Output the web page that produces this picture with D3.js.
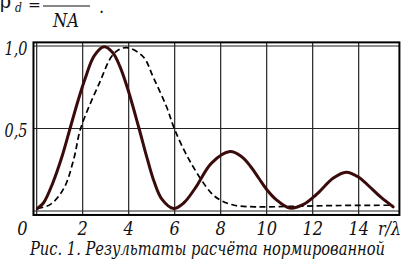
<!DOCTYPE html>
<html><head><meta charset="utf-8">
<script src="https://cdn.jsdelivr.net/npm/d3@7"></script>
<style>
html,body{margin:0;padding:0;background:#fff;}
svg{display:block;}
</style></head>
<body>
<svg id="c" width="402" height="260"></svg>
<script>
// data
const xTicks = [0, 2, 4, 6, 8, 10, 12, 14];
const xTickLabels = ["0", "2", "4", "6", "8", "10", "12", "14"];
const yTicks = [0.5, 1.0];
const yTickLabels = ["0,5", "1,0"];
const xAxisTitle = "r/λ";
const caption = "Рис. 1. Результаты расчёта нормированной";

const solidX = [0.03,0.3,0.7,1.1,1.45,1.8,2.1,2.5,2.93,3.3,3.62,3.98,4.45,4.8,5.1,5.45,5.95,6.4,6.9,7.6,8.4,8.9,9.3,9.65,10.0,10.4,11.0,11.6,12.16,12.9,13.45,14.0,14.45,14.95,15.5];
const solidY = [0.015,0.05,0.17,0.33,0.5,0.67,0.8,0.94,0.995,0.96,0.875,0.73,0.5,0.32,0.18,0.07,0.015,0.05,0.14,0.29,0.36,0.33,0.27,0.2,0.13,0.07,0.018,0.04,0.1,0.2,0.235,0.205,0.15,0.085,0.025];

const dashX = [0.03,0.6,1.19,1.62,1.91,2.71,3.36,3.9,4.63,5.07,5.65,6.01,6.67,7.58,8.0,8.58,9.5,11.0,13.0,15.5];
const dashY = [0.015,0.04,0.14,0.32,0.5,0.77,0.955,0.99,0.935,0.81,0.63,0.49,0.3,0.11,0.065,0.035,0.025,0.028,0.033,0.035];

const FONT = "'DejaVu Serif Condensed', 'DejaVu Serif', serif";

const svg = d3.select("#c");
const x = d3.scaleLinear().domain([0, 14]).range([36.7, 358.7]);
const y = d3.scaleLinear().domain([0, 1]).range([211, 46]);

const x0 = x(-0.14), x1 = x(15.77), yT = y(1.022), yB = y(-0.024);

// grid
const g = svg.append("g");
g.selectAll("line.v").data(xTicks).join("line")
  .attr("x1", d => x(d)).attr("x2", d => x(d)).attr("y1", yT).attr("y2", yB)
  .attr("stroke", "#111").attr("stroke-width", 1.1);
g.selectAll("line.h").data([0].concat(yTicks)).join("line")
  .attr("x1", x0).attr("x2", x1).attr("y1", d => y(d)).attr("y2", d => y(d))
  .attr("stroke", "#222").attr("stroke-width", 1.1);
svg.append("rect").attr("x", x0).attr("y", yT).attr("width", x1 - x0).attr("height", yB - yT)
  .attr("fill", "none").attr("stroke", "#000").attr("stroke-width", 2);

// curves
const line = d3.line().x(d => x(d[0])).y(d => y(d[1])).curve(d3.curveCatmullRom.alpha(0.5));
svg.append("path").datum(dashX.map((v, i) => [v, dashY[i]]))
  .attr("d", line).attr("fill", "none").attr("stroke", "#000")
  .attr("stroke-width", 1.7).attr("stroke-dasharray", "6,3.5");
svg.append("path").datum(solidX.map((v, i) => [v, solidY[i]]))
  .attr("d", line).attr("fill", "none").attr("stroke", "#3a0b0b")
  .attr("stroke-width", 3).attr("stroke-linejoin", "round").attr("stroke-linecap", "round");

function t(sel) { return sel.attr("font-family", FONT).attr("fill", "#111"); }

// tick labels
t(svg.selectAll("text.xt").data(xTicks).join("text"))
  .attr("x", (d, i) => i === 0 ? 22.5 : x(d)).attr("y", 235)
  .attr("text-anchor", "middle").attr("font-style", "italic").attr("font-size", 18)
  .text((d, i) => xTickLabels[i]);
t(svg.append("text")).attr("x", 378).attr("y", 235).attr("font-style", "italic").attr("font-size", 18)
  .attr("textLength", 23).attr("lengthAdjust", "spacingAndGlyphs").text(xAxisTitle);
t(svg.selectAll("text.yt").data(yTicks).join("text"))
  .attr("x", 27.5).attr("y", d => y(d) + 8.5)
  .attr("text-anchor", "end").attr("font-style", "italic").attr("font-size", 18)
  .attr("textLength", 23).attr("lengthAdjust", "spacingAndGlyphs")
  .text((d, i) => yTickLabels[i]);

// caption
t(svg.append("text")).attr("x", 30).attr("y", 254.5).attr("font-style", "italic").attr("font-size", 18)
  .attr("textLength", 355).attr("lengthAdjust", "spacingAndGlyphs").text(caption);

// formula fragment at top (cut off at the top edge, as in the reference)
t(svg.append("text")).attr("x", 0).attr("y", 8).attr("font-size", 21).text("ρ");
t(svg.append("text")).attr("x", 15).attr("y", 12).attr("font-size", 12).attr("font-style", "italic").text("d");
t(svg.append("text")).attr("x", 28).attr("y", 10).attr("font-size", 17).text("=");
svg.append("line").attr("x1", 43).attr("x2", 90).attr("y1", 6).attr("y2", 6).attr("stroke", "#111").attr("stroke-width", 1.2);
t(svg.append("text")).attr("x", 53).attr("y", 27).attr("font-size", 18).attr("font-style", "italic").text("NA");
t(svg.append("text")).attr("x", 99).attr("y", 13).attr("font-size", 18).text(".");
</script>
</body></html>
